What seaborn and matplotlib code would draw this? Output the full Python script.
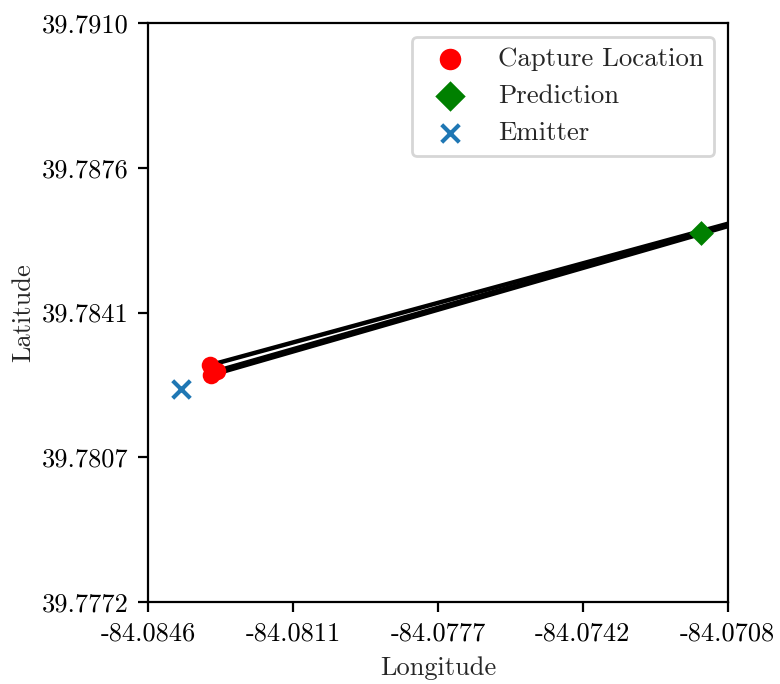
import matplotlib
matplotlib.use("Agg")
import matplotlib.pyplot as plt
import seaborn as sns
import pandas as pd

# Data
capture_lon = [-84.08312, -84.08310, -84.08296]
capture_lat = [39.78285, 39.78261, 39.78271]
bearing_end_lon = [-84.0690, -84.0690, -84.0690]
bearing_end_lat = [39.78671, 39.78668, 39.78670]
pred_lon = [-84.07144]
pred_lat = [39.78600]
emitter_lon = [-84.08381]
emitter_lat = [39.78228]

xticks = [-84.0846, -84.08115, -84.0777, -84.07425, -84.0708]
xtick_labels = ["-84.0846", "-84.0811", "-84.0777", "-84.0742", "-84.0708"]
yticks = [39.7772, 39.78065, 39.7841, 39.78755, 39.7910]
ytick_labels = ["39.7772", "39.7807", "39.7841", "39.7876", "39.7910"]

sns.set_style("ticks")
plt.rcParams["font.family"] = ["cmr10", "DejaVu Serif"]
plt.rcParams["axes.formatter.use_mathtext"] = True
plt.rcParams["font.size"] = 9.5
plt.rcParams["axes.edgecolor"] = "black"
plt.rcParams["xtick.color"] = "black"
plt.rcParams["ytick.color"] = "black"

fig, ax = plt.subplots(figsize=(3.9, 3.42), dpi=200)
fig.subplots_adjust(left=0.19, right=0.933, top=0.966, bottom=0.12)

for i in range(len(capture_lon)):
    line_df = pd.DataFrame({"lon": [capture_lon[i], bearing_end_lon[i]],
                            "lat": [capture_lat[i], bearing_end_lat[i]]})
    sns.lineplot(data=line_df, x="lon", y="lat", color="black", linewidth=1.6,
                 sort=False, ax=ax, zorder=1)

sns.scatterplot(x=capture_lon, y=capture_lat, color="red", marker="o", s=40,
                linewidth=0, ax=ax, label="Capture Location", zorder=3)
sns.scatterplot(x=pred_lon, y=pred_lat, color="green", marker="D", s=40,
                linewidth=0, ax=ax, label="Prediction", zorder=3)
sns.scatterplot(x=emitter_lon, y=emitter_lat, color="#1f77b4", marker="x", s=40,
                linewidth=1.5, ax=ax, label="Emitter", zorder=3)

ax.set_xlim(xticks[0], xticks[-1])
ax.set_ylim(yticks[0], yticks[-1])
ax.set_xticks(xticks)
ax.set_xticklabels(xtick_labels)
ax.set_yticks(yticks)
ax.set_yticklabels(ytick_labels)
ax.set_xlabel("Longitude")
ax.set_ylabel("Latitude", labelpad=2.5)
for s in ax.spines.values():
    s.set_visible(True)
    s.set_linewidth(0.8)
ax.tick_params(direction="out", length=3.5, width=0.8)

leg = ax.legend(loc="upper right", frameon=True, fontsize=9.65)
for h, sz in zip(leg.legend_handles, [60, 60, 40]):
    h.set_sizes([sz])

fig.savefig("out.png", dpi=200)
